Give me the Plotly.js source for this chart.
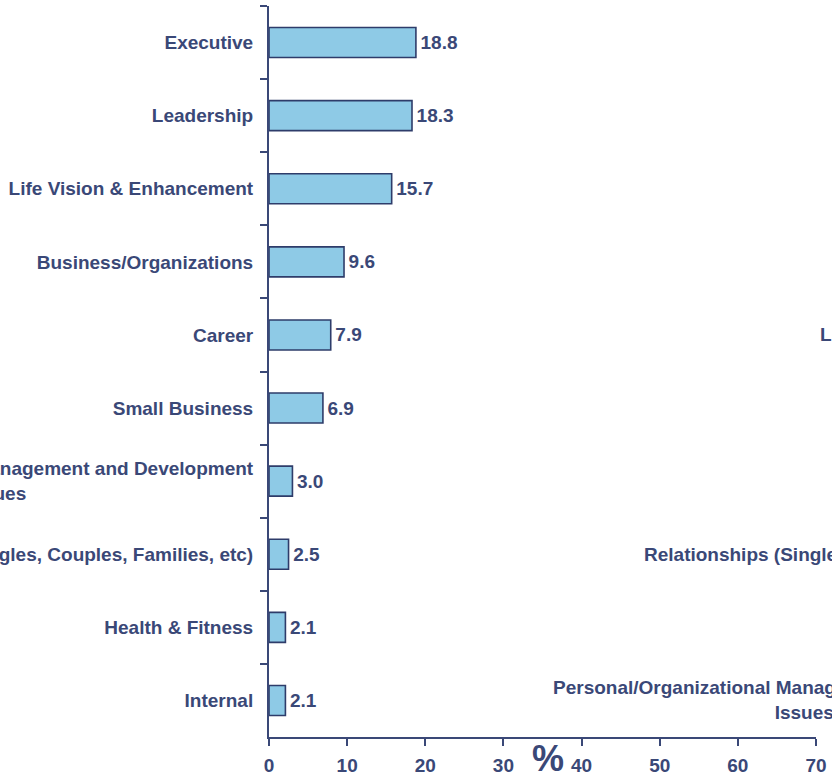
<!DOCTYPE html>
<html>
<head>
<meta charset="utf-8">
<script src="https://cdn.plot.ly/plotly-3.0.1.min.js"></script>
<style>html,body{margin:0;padding:0;background:#fff;}#chart{width:832px;height:779px;}</style>
</head>
<body>
<div id="chart"></div>
<script>
const categories = [
  "Executive",
  "Leadership",
  "Life Vision & Enhancement",
  "Business/Organizations",
  "Career",
  "Small Business",
  "Personal/Organizational Management and Development<br>Issues" + "\u00a0".repeat(43),
  "Relationships (Singles, Couples, Families, etc)",
  "Health & Fitness",
  "Internal"
];
const values = [18.8, 18.3, 15.7, 9.6, 7.9, 6.9, 3.0, 2.5, 2.1, 2.1];
const valueLabels = ["18.8", "18.3", "15.7", "9.6", "7.9", "6.9", "3.0", "2.5", "2.1", "2.1"];
const xTicks = [0, 10, 20, 30, 40, 50, 60, 70];
const axisTitle = "%";
const ghostLabels = [
  {text: "Life Vision & Enhancement", cat: 4, x: 1.0037},
  {text: "Relationships (Singles, Couples, Families, etc)", cat: 7, x: 0.6815},
  {text: "Personal/Organizational Management and Development<br>Issues", cat: 9, x: 0.5155}
];

const NAVY = "#3a4877";
const FONT = "Liberation Sans, Arial, sans-serif";

const trace = {
  type: "bar",
  orientation: "h",
  x: values,
  y: categories,
  text: valueLabels,
  texttemplate: "\u200a%{text}",
  textposition: "outside",
  constraintext: "none",
  cliponaxis: false,
  textfont: {family: FONT, size: 19, color: NAVY, weight: "bold"},
  marker: {color: "#8ecae6", line: {color: "#2e3c6a", width: 1.6}},
  hoverinfo: "none"
};

const annotations = ghostLabels.map(g => ({
  text: g.text, xref: "paper", yref: "y", x: g.x, y: categories[g.cat],
  xanchor: "left", yanchor: "middle", align: "center", showarrow: false,
  font: {family: FONT, size: 19, color: NAVY, weight: "bold"}
}));
annotations.push({
  text: axisTitle, xref: "x", yref: "paper", x: 35.7, y: -0.03,
  xanchor: "center", yanchor: "middle", showarrow: false,
  font: {family: FONT, size: 36, color: NAVY, weight: "bold"}
});

const layout = {
  width: 832, height: 779,
  margin: {l: 269, r: 16, t: 6, b: 42, pad: 0},
  paper_bgcolor: "#fff", plot_bgcolor: "#fff",
  showlegend: false,
  bargap: 0.59,
  font: {family: FONT, color: NAVY},
  xaxis: {
    range: [0, 70], tickvals: xTicks, ticktext: xTicks.map(String),
    showgrid: false, zeroline: false,
    showline: true, linecolor: "#3a4877", linewidth: 2,
    ticks: "outside", ticklen: 7, tickwidth: 2, tickcolor: "#3a4877",
    ticklabelstandoff: 3,
    tickfont: {family: FONT, size: 19, color: NAVY, weight: "bold"},
    automargin: false, fixedrange: true
  },
  yaxis: {
    type: "category", autorange: "reversed",
    showgrid: false, zeroline: false,
    showline: true, linecolor: "#3a4877", linewidth: 2,
    ticks: "outside", tickson: "boundaries", ticklen: 7, tickwidth: 2, tickcolor: "#3a4877",
    ticklabelstandoff: 10,
    tickfont: {family: FONT, size: 19, color: NAVY, weight: "bold"},
    automargin: false, fixedrange: true
  },
  annotations: annotations
};

Plotly.newPlot("chart", [trace], layout, {displayModeBar: false, staticPlot: true});
</script>
</body>
</html>
